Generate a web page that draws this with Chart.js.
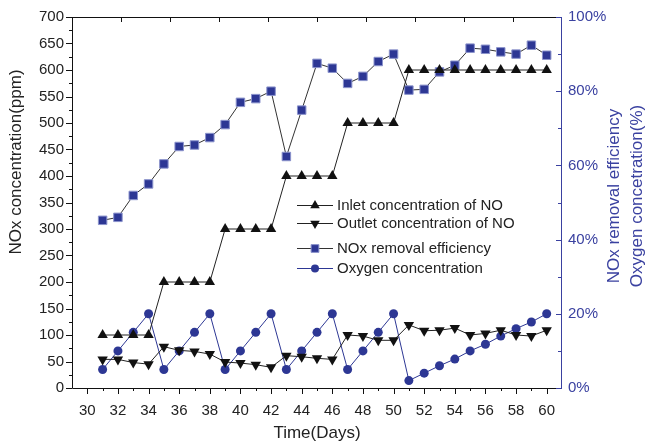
<!DOCTYPE html>
<html>
<head>
<meta charset="utf-8">
<script src="https://cdn.jsdelivr.net/npm/chart.js@4.4.0/dist/chart.umd.min.js"></script>
<style>
  html, body { margin: 0; padding: 0; background: #fff; }
  #wrap { width: 649px; height: 445px; position: relative; }
</style>
</head>
<body>
<div id="wrap"><canvas id="chart"></canvas></div>
<script>
// --- data ---
const days = [31, 32, 33, 34, 35, 36, 37, 38, 39, 40, 41, 42, 43, 44, 45,
              46, 47, 48, 49, 50, 51, 52, 53, 54, 55, 56, 57, 58, 59, 60];
const inletNO = [100, 100, 100, 100, 200, 200, 200, 200, 300, 300, 300, 300, 400, 400, 400,
                 400, 500, 500, 500, 500, 600, 600, 600, 600, 600, 600, 600, 600, 600, 600];
const outletNO = [54, 54, 48, 45, 78, 71, 69, 64, 49, 47, 44, 39, 61, 59, 56,
                  54, 100, 98, 90, 90, 119, 108, 109, 113, 100, 103, 109, 100, 98, 109];
const noxEfficiency = [45.2, 46, 51.9, 55, 60.4, 65.1, 65.5, 67.5, 71, 77, 78, 80, 62.4, 74.9, 87.5,
                       86.2, 82.1, 84, 88, 90, 80.3, 80.5, 85.2, 87, 91.6, 91.3, 90.6, 90, 92.4, 89.7];
const oxygen = [5, 10, 15, 20, 5, 10, 15, 20, 5, 10, 15, 20, 5, 10, 15,
                20, 5, 10, 15, 20, 2, 4, 6, 7.8, 10, 11.8, 14, 16, 17.8, 20];

const xTickLabels = [30, 32, 34, 36, 38, 40, 42, 44, 46, 48, 50, 52, 54, 56, 58, 60];
const leftTickLabels = [0, 50, 100, 150, 200, 250, 300, 350, 400, 450, 500, 550, 600, 650, 700];
const rightTickLabels = [0, 20, 40, 60, 80, 100];

const BLUE = '#2d3794';
const AXIS_BLUE = '#3a41a0';
const FONT = '"Liberation Sans", Arial, sans-serif';

const pts = (arr) => days.map((d, i) => ({ x: d, y: arr[i] }));

const datasets = [
  {
    label: 'Inlet concentration of NO',
    data: pts(inletNO),
    yAxisID: 'y',
    borderColor: '#222',
    backgroundColor: '#111',
    borderWidth: 1,
    pointStyle: 'triangle',
    pointRadius: 6,
    pointBorderWidth: 0,
  },
  {
    label: 'Outlet concentration of NO',
    data: pts(outletNO),
    yAxisID: 'y',
    borderColor: '#222',
    backgroundColor: '#111',
    borderWidth: 1,
    pointStyle: 'triangle',
    rotation: 180,
    pointRadius: 6,
    pointBorderWidth: 0,
  },
  {
    label: 'NOx removal efficiency',
    data: pts(noxEfficiency),
    yAxisID: 'y2',
    borderColor: '#333',
    backgroundColor: BLUE,
    pointBorderColor: '#8b93cc',
    borderWidth: 1,
    pointStyle: 'rect',
    pointRadius: 6,
    pointBorderWidth: 1,
  },
  {
    label: 'Oxygen concentration',
    data: pts(oxygen),
    yAxisID: 'y2',
    borderColor: BLUE,
    backgroundColor: BLUE,
    borderWidth: 1,
    pointStyle: 'circle',
    pointRadius: 4.5,
    pointBorderWidth: 0,
  },
];

// axis frame with inward/outward ticks like the original plot
const axisFrame = {
  id: 'axisFrame',
  afterDatasetsDraw(chart) {
    const { ctx, chartArea: a, scales } = chart;
    const sx = scales.x, sy = scales.y, sy2 = scales.y2;
    ctx.save();
    ctx.lineWidth = 1;
    ctx.strokeStyle = '#111';
    ctx.beginPath();
    ctx.moveTo(a.left + 0.5, a.top + 0.5);
    ctx.lineTo(a.left + 0.5, a.bottom + 0.5);
    ctx.lineTo(a.right, a.bottom + 0.5);
    ctx.moveTo(a.left, a.top + 0.5);
    ctx.lineTo(a.right, a.top + 0.5);
    for (let v = 0; v <= 700; v += 25) {
      const py = Math.round(sy.getPixelForValue(v)) + 0.5;
      const len = v % 50 ? 3 : 6;
      ctx.moveTo(a.left - len, py);
      ctx.lineTo(a.left, py);
    }
    for (let d = 30; d <= 60; d++) {
      const px = Math.round(sx.getPixelForValue(d)) + 0.5;
      const len = d % 2 ? 3 : 6;
      ctx.moveTo(px, a.bottom);
      ctx.lineTo(px, a.bottom + len);
    }
    for (let i = 1; i < 10; i++) {
      const px = Math.round(a.left + (a.right - a.left) * i / 10) + 0.5;
      ctx.moveTo(px, a.top);
      ctx.lineTo(px, a.top + 5);
    }
    ctx.stroke();

    ctx.strokeStyle = AXIS_BLUE;
    ctx.beginPath();
    ctx.moveTo(a.right - 0.5, a.top);
    ctx.lineTo(a.right - 0.5, a.bottom + 1);
    for (let v = 0; v <= 100; v += 10) {
      const py = Math.round(sy2.getPixelForValue(v)) + 0.5;
      const len = v % 20 ? 4 : 6;
      ctx.moveTo(a.right - len, py);
      ctx.lineTo(a.right, py);
    }
    ctx.stroke();
    ctx.restore();
  },
};

// axis titles and the legend
const labelsAndLegend = {
  id: 'labelsAndLegend',
  afterDraw(chart) {
    const { ctx } = chart;
    ctx.save();
    ctx.textAlign = 'center';
    ctx.textBaseline = 'middle';
    ctx.font = '17px ' + FONT;

    ctx.fillStyle = '#222';
    ctx.fillText('Time(Days)', 317, 433);

    ctx.save();
    ctx.translate(16, 162);
    ctx.rotate(-Math.PI / 2);
    ctx.fillText('NOx concentration(ppm)', 0, 0);
    ctx.restore();

    ctx.fillStyle = AXIS_BLUE;
    ctx.save();
    ctx.translate(614, 196);
    ctx.rotate(-Math.PI / 2);
    ctx.fillText('NOx removal efficiency', 0, 0);
    ctx.restore();
    ctx.save();
    ctx.translate(637, 196);
    ctx.rotate(-Math.PI / 2);
    ctx.fillText('Oxygen concetration(%)', 0, 0);
    ctx.restore();

    // legend
    const rows = [205, 223, 248, 268];
    ctx.font = '15px ' + FONT;
    ctx.textAlign = 'left';
    chart.data.datasets.forEach((ds, i) => {
      const yy = rows[i];
      ctx.strokeStyle = ds.borderColor;
      ctx.lineWidth = 1;
      ctx.beginPath();
      ctx.moveTo(297, yy + 0.5);
      ctx.lineTo(333, yy + 0.5);
      ctx.stroke();
      ctx.fillStyle = ds.backgroundColor;
      ctx.strokeStyle = ds.pointBorderColor || ds.backgroundColor;
      ctx.lineWidth = ds.pointBorderWidth || 0;
      Chart.helpers.drawPoint(ctx, {
        pointStyle: ds.pointStyle,
        rotation: ds.rotation || 0,
        radius: ds.pointRadius - 0.5,
        borderWidth: ds.pointBorderWidth || 0,
      }, 315, yy + 0.5);
      ctx.fillStyle = '#222';
      ctx.fillText(ds.label, 337, yy + 1);
    });
    ctx.restore();
  },
};

const config = {
  type: 'line',
  data: { datasets },
  options: {
    responsive: true,
    maintainAspectRatio: false,
    animation: false,
    layout: { padding: { top: 16, left: 0, right: 0, bottom: 0 } },
    plugins: {
      legend: { display: false },
      tooltip: { enabled: false },
    },
    scales: {
      x: {
        type: 'linear',
        min: 29,
        max: 61,
        grid: { display: false, drawTicks: false },
        border: { display: false },
        afterFit(scale) { scale.height = 57; },
        ticks: {
          stepSize: 1,
          autoSkip: false,
          maxRotation: 0,
          padding: 14,
          color: '#222',
          font: { family: FONT, size: 15 },
          callback: (v) => (xTickLabels.includes(v) ? String(v) : ''),
        },
      },
      y: {
        position: 'left',
        min: 0,
        max: 700,
        grid: { display: false, drawTicks: false },
        border: { display: false },
        afterFit(scale) { scale.width = 72; },
        ticks: {
          stepSize: 50,
          padding: 8,
          color: '#222',
          font: { family: FONT, size: 15 },
          callback: (v) => (leftTickLabels.includes(v) ? String(v) : ''),
        },
      },
      y2: {
        position: 'right',
        min: 0,
        max: 100,
        grid: { display: false, drawTicks: false },
        border: { display: false },
        afterFit(scale) { scale.width = 87; },
        ticks: {
          stepSize: 20,
          padding: 6,
          color: AXIS_BLUE,
          font: { family: FONT, size: 15 },
          callback: (v) => (rightTickLabels.includes(v) ? v + '%' : ''),
        },
      },
    },
  },
  plugins: [axisFrame, labelsAndLegend],
};

new Chart(document.getElementById('chart'), config);
</script>
</body>
</html>
